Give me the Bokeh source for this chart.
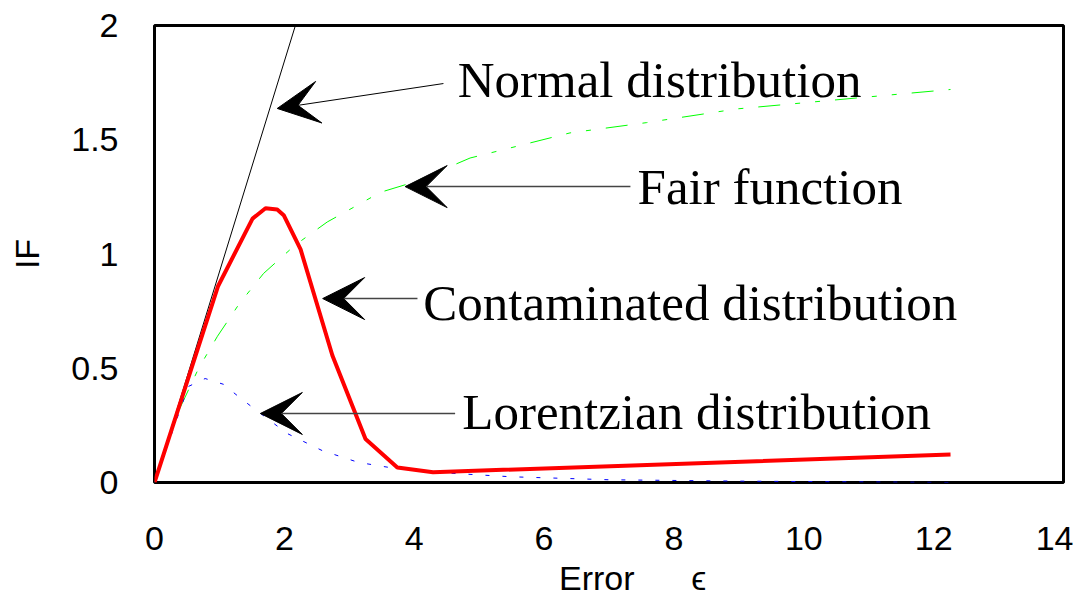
from bokeh.plotting import figure
from bokeh.models import Arrow, VeeHead, Label, FixedTicker, CustomJSTickFormatter, Range1d
from bokeh.embed import file_html
from bokeh.resources import INLINE

# ---- data ----
normal_x = [0.0, 2.17]
normal_y = [0.0, 2.0]

fair_x = [0, 0.3, 0.68, 0.97, 1.3, 1.68, 2.17, 2.66, 3.48, 4.0, 4.86, 6.4, 7.58, 8.97, 10.9, 12.26]
fair_y = [0, 0.27, 0.5, 0.64, 0.78, 0.915, 1.04, 1.14, 1.27, 1.315, 1.42, 1.53, 1.575, 1.635, 1.685, 1.72]

cont_x = [0, 0.98, 1.51, 1.71, 1.89, 1.99, 2.25, 2.74, 3.25, 3.74, 4.29, 12.26]
cont_y = [0, 0.86, 1.155, 1.20, 1.195, 1.17, 1.02, 0.556, 0.19, 0.066, 0.045, 0.122]

lor_x = [0, 0.52, 0.78, 1.06, 1.32, 1.55, 2.04, 2.58, 3.14, 3.74, 4.35, 5.5, 7.0, 9.0, 12.26]
lor_y = [0, 0.42, 0.455, 0.43, 0.37, 0.32, 0.215, 0.14, 0.088, 0.06, 0.044, 0.025, 0.012, 0.006, 0.0]

x_ticks = [0, 2, 4, 6, 8, 10, 12, 14]
y_ticks = [0, 0.5, 1, 1.5, 2]

# annotations
ann_text = ["Normal distribution", "Fair function", "Contaminated distribution", "Lorentzian distribution"]
ann_tx = [4.67, 7.44, 4.14, 4.74]
ann_ty = [1.685, 1.221, 0.709, 0.236]
arr_x0 = [4.45, 7.33, 4.05, 4.63]
arr_y0 = [1.746, 1.295, 0.805, 0.302]
arr_x1 = [1.89, 3.86, 2.59, 1.63]
arr_y1 = [1.637, 1.295, 0.805, 0.302]
arr_color = ["black", "#444444", "#444444", "#444444"]
arr_width = [1, 1.5, 1.5, 1.5]

p = figure(frame_width=909, frame_height=457,
           min_border_left=154, min_border_top=25, min_border_right=10, min_border_bottom=97,
           x_range=Range1d(0, 14), y_range=Range1d(0, 2),
           output_backend="svg", toolbar_location=None,
           background_fill_color="white", border_fill_color="white")

p.xgrid.visible = False
p.ygrid.visible = False
p.outline_line_color = "black"
p.outline_line_width = 3

p.line(normal_x, normal_y, line_color="black", line_width=1)
p.line(fair_x, fair_y, line_color="#00ff00", line_width=1, line_dash="22 15 5 15 5 15")
p.line(lor_x, lor_y, line_color="#0000ff", line_width=1, line_dash="4 13")
p.line(cont_x, cont_y, line_color="#ff0000", line_width=4)

for i in range(len(ann_text)):
    p.add_layout(Arrow(end=VeeHead(size=42, fill_color="black", line_color="black", line_width=1),
                       x_start=arr_x0[i], y_start=arr_y0[i], x_end=arr_x1[i], y_end=arr_y1[i],
                       line_color=arr_color[i], line_width=arr_width[i]))
    p.add_layout(Label(x=ann_tx[i], y=ann_ty[i], y_offset=17, text=ann_text[i],
                       text_font="Liberation Serif", text_font_size="51px",
                       text_color="black", text_baseline="alphabetic", text_align="left"))

for ax in (p.xaxis[0], p.yaxis[0]):
    ax.axis_line_color = None
    ax.major_tick_line_color = None
    ax.minor_tick_line_color = None
    ax.major_label_text_font = "Liberation Sans"
    ax.major_label_text_font_size = "34px"
    ax.major_label_text_color = "black"
    ax.axis_label_text_font = "Liberation Sans"
    ax.axis_label_text_font_size = "34px"
    ax.axis_label_text_font_style = "normal"
    ax.axis_label_text_color = "black"
    ax.formatter = CustomJSTickFormatter(code="return tick.toString();")

p.xaxis.ticker = FixedTicker(ticks=x_ticks)
p.yaxis.ticker = FixedTicker(ticks=y_ticks)
p.xaxis.major_label_standoff = 38
p.yaxis.major_label_standoff = 30
p.xaxis.axis_label = "\u00a0\u00a0\u00a0\u00a0\u00a0Error\u00a0\u00a0\u00a0\u00a0\u00a0\u00a0ϵ"
p.yaxis.axis_label = "IF"
p.xaxis.axis_label_standoff = 6
p.yaxis.axis_label_standoff = 22

open("out.html", "w").write(file_html(p, INLINE))
